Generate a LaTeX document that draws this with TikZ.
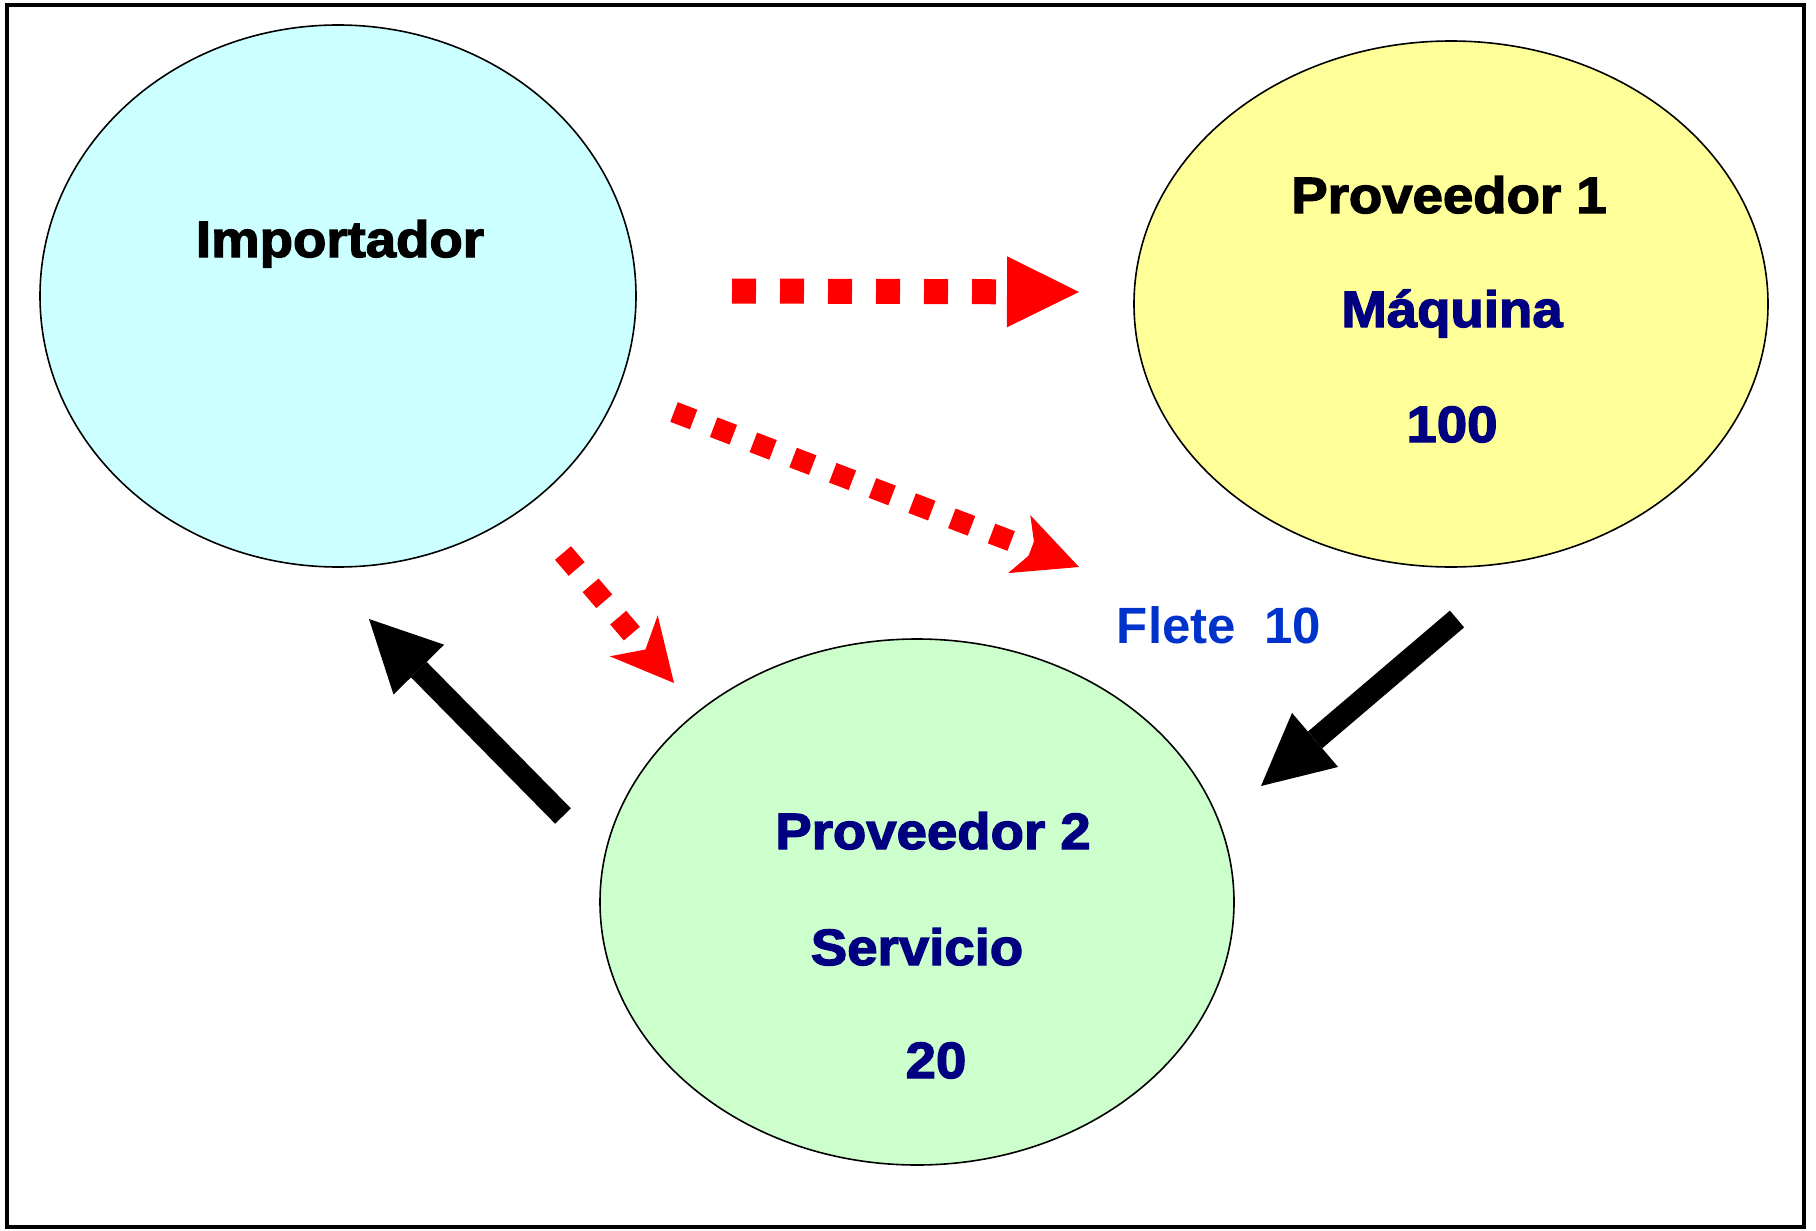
\documentclass[tikz,border=0pt]{standalone}
\usepackage{fontspec}
\usetikzlibrary{shapes.geometric, arrows.meta}

\newfontfamily\heavysf{Liberation Sans}[UprightFont={* Bold}, FakeBold=2.6, FakeStretch=1.07]
\newfontfamily\plainsf{Liberation Sans}

\definecolor{impfill}{HTML}{CCFFFF}
\definecolor{provfill}{HTML}{FFFF99}
\definecolor{servfill}{HTML}{CCFFCC}
\definecolor{navytext}{HTML}{000080}
\definecolor{fleteblue}{HTML}{0033CC}

\tikzset{
  party/.style={ellipse, draw=black, line width=1.6pt, inner sep=0pt},
  heavy/.style={font=\heavysf\fontsize{51}{60}\selectfont, anchor=base, inner sep=0pt},
  dotarrow/.style={red, line width=#1, -{Stealth[length=64pt,width=62pt,inset=17pt,line width=0pt]}},
  bigarrow/.style={black, line width=22pt, -{Triangle[length=71pt,width=71pt,line width=0pt]}}
}

\begin{document}
\begin{tikzpicture}[x=1pt, y=-1pt]

\useasboundingbox (0,0) rectangle (1816,1231);
\draw[line width=4pt] (7,5) rectangle (1804,1227);

% the three parties
\node[party, fill=impfill, minimum width=596pt, minimum height=542pt] (imp) at (338,296) {};
\node[party, fill=provfill, minimum width=634pt, minimum height=526pt] (prov1) at (1451,304) {};
\node[party, fill=servfill, minimum width=634pt, minimum height=526pt] (prov2) at (917,902) {};

\node[heavy] (impname) at (340,257) {Importador};

\node[heavy] (p1name) at (1449,213) {Proveedor 1};
\node[heavy, navytext] (p1good) at (1452,327) {Máquina};
\node[heavy, navytext] (p1value) at (1452,442) {100};

\node[heavy, navytext] (p2name) at (933,849) {Proveedor 2};
\node[heavy, navytext] (p2good) at (917,965) {Servicio};
\node[heavy, navytext] (p2value) at (936,1078) {20};

\node[font=\plainsf\bfseries\fontsize{51}{60}\selectfont, fleteblue, anchor=base, inner sep=0pt] (flete) at (1219,643) {Flete~~10};

% payments from the importer
\coordinate (r1s) at (732,291);
\coordinate (r1e) at (1079,292);
\coordinate (r2s) at (674,412);
\coordinate (r2e) at (1079,567);
\coordinate (r3s) at (563,553);
\coordinate (r3e) at (674,683);

\draw[red, line width=25pt, dash pattern=on 24pt off 24pt, -{Triangle[length=72pt,width=71pt,line width=0pt]}] (r1s) -- (r1e);
\draw[dotarrow=21pt, dash pattern=on 21pt off 21.5pt] (r2s) -- (r2e);
\draw[dotarrow=21pt, dash pattern=on 21pt off 21.5pt, -{Stealth[length=62pt,width=63pt,inset=18pt,line width=0pt]}] (r3s) -- (r3e);

% goods flow
\coordinate (b1s) at (1457,619);
\coordinate (b1e) at (1261,786);
\coordinate (b2s) at (563,816);
\coordinate (b2e) at (369,619);

\draw[bigarrow] (b1s) -- (b1e);
\draw[bigarrow] (b2s) -- (b2e);

\end{tikzpicture}
\end{document}
